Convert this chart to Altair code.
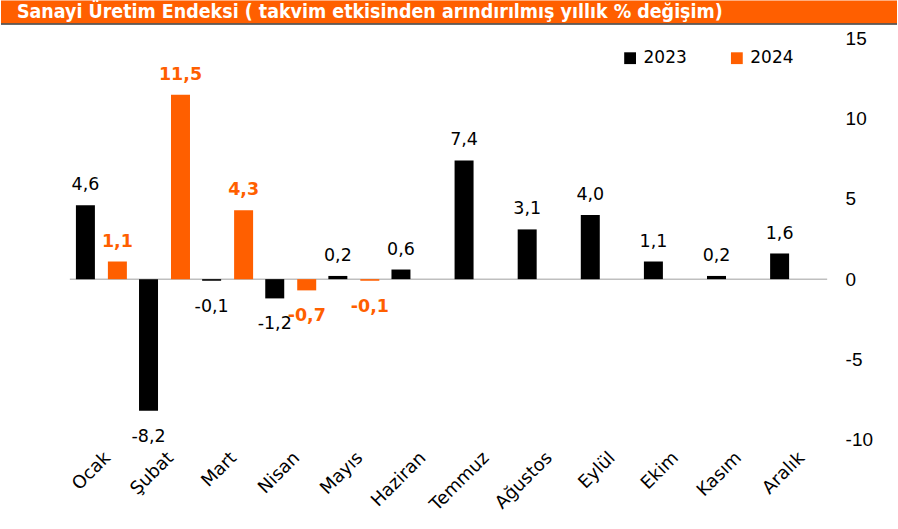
import altair as alt
import pandas as pd

months = ["Ocak", "Şubat", "Mart", "Nisan", "Mayıs", "Haziran", "Temmuz",
          "Ağustos", "Eylül", "Ekim", "Kasım", "Aralık"]
v2023 = [4.6, -8.2, -0.1, -1.2, 0.2, 0.6, 7.4, 3.1, 4.0, 1.1, 0.2, 1.6]
v2024 = [1.1, 11.5, 4.3, -0.7, -0.1]
years = ["2023", "2024"]
colors = ["#000000", "#FF5F00"]
y_ticks = [-10, -5, 0, 5, 10, 15]
title_text = "Sanayi Üretim Endeksi ( takvim etkisinden arındırılmış yıllık % değişim)"

rows = []
for m, v in zip(months, v2023):
    rows.append({"ay": m, "yil": "2023", "deger": v})
for m, v in zip(months, v2024):
    rows.append({"ay": m, "yil": "2024", "deger": v})
df = pd.DataFrame(rows)
df["etiket"] = df["deger"].map(lambda v: f"{v:.1f}".replace(".", ","))

W, H = 759, 402
FONT = "DejaVu Sans"
AXFONT = "Liberation Sans"

x = alt.X("ay:N", sort=months,
          scale=alt.Scale(paddingInner=0, paddingOuter=0),
          axis=alt.Axis(title=None, labelAngle=-45, domain=False, ticks=False,
                        labelFontSize=18, labelFont=FONT, labelColor="black",
                        labelPadding=9))
xo = alt.XOffset("yil:N", scale=alt.Scale(domain=years, paddingInner=0.406, paddingOuter=0.19))
y = alt.Y("deger:Q",
          scale=alt.Scale(domain=[-10, 15], nice=False, zero=False),
          axis=alt.Axis(orient="right", values=y_ticks, grid=False, domain=False,
                        ticks=False, labelFontSize=19, labelFont=AXFONT,
                        labelColor="black", labelPadding=18, title=None,
                        labelExpr="'' + datum.value"),
          stack=None)

base = alt.Chart(df)

zero_line = alt.Chart(pd.DataFrame({"z": [0]})).mark_rule(
    color="#BFBFBF", strokeWidth=1.5).encode(y=alt.Y("z:Q"))

bars = base.mark_bar().encode(
    x=x, xOffset=xo, y=y, y2=alt.datum(0),
    color=alt.Color("yil:N", scale=alt.Scale(domain=years, range=colors),
                    legend=alt.Legend(orient="none", legendX=553, legendY=11,
                                      direction="horizontal", title=None,
                                      symbolType="square", symbolSize=140,
                                      symbolStrokeWidth=0, labelFontSize=17,
                                      labelFont=FONT, labelColor="black",
                                      columnPadding=41, labelOffset=5, padding=0)),
)

texts = []
for yr, col, wt in [("2023", "#000000", "normal"), ("2024", "#FF5F00", "bold")]:
    pos = base.transform_filter(
        (alt.datum.yil == yr) & (alt.datum.deger >= 0)
    ).mark_text(fontSize=17.5, font=FONT, color=col, fontWeight=wt,
                baseline="alphabetic", dy=-15).encode(
        x=x, xOffset=xo, y=y, text="etiket:N")
    neg = base.transform_filter(
        (alt.datum.yil == yr) & (alt.datum.deger < 0)
    ).mark_text(fontSize=17.5, font=FONT, color=col, fontWeight=wt,
                baseline="top", dy=17).encode(
        x=x, xOffset=xo, y=y, text="etiket:N")
    texts += [pos, neg]

one = pd.DataFrame({"a": [0]})
title_bar = alt.Chart(one).mark_rect(color="#FF5F00").encode(
    x=alt.value(-69), x2=alt.value(829), y=alt.value(-38), y2=alt.value(-15))
title_line = alt.Chart(one).mark_rule(color="#3A3A3A", strokeWidth=1.5).encode(
    x=alt.value(-69), x2=alt.value(829), y=alt.value(-14.5))
title_txt = alt.Chart(one).mark_text(
    align="left", baseline="alphabetic", color="white", fontSize=19.5,
    font="DejaVu Sans Condensed", fontWeight="bold").encode(
    x=alt.value(-53), y=alt.value(-20.5), text=alt.value(title_text))

chart = alt.layer(zero_line, bars, *texts, title_bar, title_line, title_txt).properties(
    width=W, height=H, padding=0, background="white"
).configure_view(stroke=None)

chart.save("out.html", embed_options={"renderer": "svg", "actions": False})
